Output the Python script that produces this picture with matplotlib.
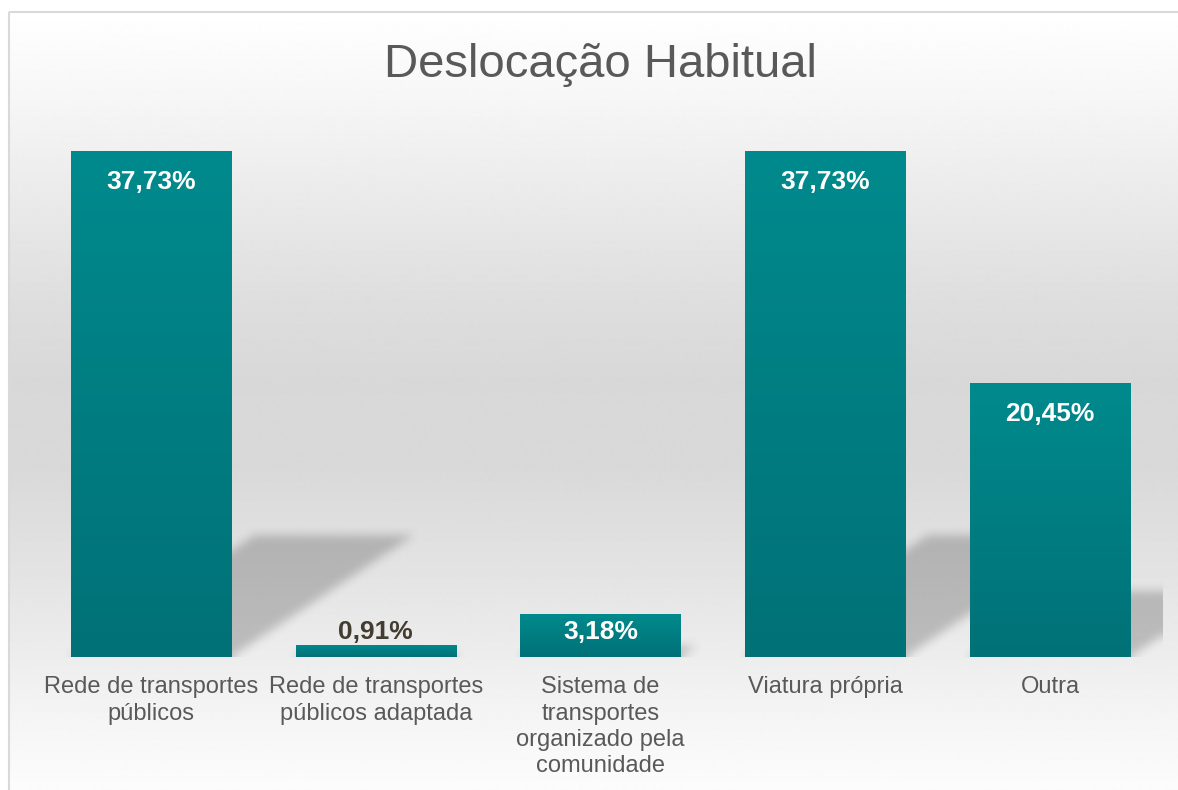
import numpy as np
import matplotlib
matplotlib.use('Agg')
import matplotlib.pyplot as plt
from matplotlib.patches import Rectangle

plt.rcParams['font.family'] = ['Liberation Sans', 'DejaVu Sans']

categories = ['Rede de transportes\npúblicos',
              'Rede de transportes\npúblicos adaptada',
              'Sistema de\ntransportes\norganizado pela\ncomunidade',
              'Viatura própria',
              'Outra']
values = [37.73, 0.91, 3.18, 37.73, 20.45]
value_labels = ['37,73%', '0,91%', '3,18%', '37,73%', '20,45%']
title = 'Deslocação Habitual'

W, H = 1178, 790
fig = plt.figure(figsize=(W / 100, H / 100), dpi=100)
fig.patch.set_facecolor('white')

# background gradient (light -> grey -> light), inside the chart border
bg = fig.add_axes([0, 0, 1, 1], zorder=-5)
bg.set_xlim(0, W)
bg.set_ylim(H, 0)
bg.axis('off')
stops_y = [12, 100, 200, 300, 380, 470, 560, 650, 720, 790]
stops_v = [255, 246, 234, 222, 216, 217, 226, 236, 245, 252]
yy = np.arange(12, H + 1)
g = np.interp(yy, stops_y, stops_v) / 255.0
bg.imshow(np.repeat(g[:, None], 2, axis=1), cmap='gray', vmin=0, vmax=1,
          extent=(9, W + 5, H, 12), aspect='auto', interpolation='bilinear')
bg.add_patch(Rectangle((9, 12), W, H, fill=False, edgecolor='#d9d9d9', lw=1.5))

# plot area
left, right = 38.6 / W, 1162.4 / W
bottom, top = 1 - 657 / H, 1 - 120.6 / H
ax = fig.add_axes([left, bottom, right - left, top - bottom])
ax.patch.set_alpha(0)
x = np.arange(len(values))
for s in ax.spines.values():
    s.set_visible(False)
ax.set_yticks([])
ax.set_xticks(x)
ax.set_xticklabels(categories, fontsize=17, color='#595959', linespacing=1.25)
ax.tick_params(axis='x', length=0, pad=14)

width = 0.712
bars = ax.bar(x, values, width=width, color='none', zorder=3)

# bar gradient
grad = np.linspace(0, 1, 256)[:, None]
top_c = np.array([0x01, 0x8a, 0x8d]) / 255
bot_c = np.array([0x00, 0x71, 0x77]) / 255
img = top_c * (1 - grad[..., None]) + bot_c * grad[..., None]
for b in bars:
    x0, y0 = b.get_x(), b.get_y()
    im = ax.imshow(img, extent=(x0, x0 + b.get_width(), y0, y0 + b.get_height()),
                   aspect='auto', zorder=3, interpolation='bilinear')
    im.set_clip_path(b)

# blurred perspective shadows behind the bars
nx, ny = 1124, 537
xs = np.linspace(-0.5, len(values) - 0.5, nx)
ys = np.linspace(0, 40, ny)
X, Y = np.meshgrid(xs, ys)
mask = np.zeros_like(X)
for xi, v in zip(x, values):
    sh = 0.24 * v
    shift = 0.0215 * v
    t = np.clip(Y / sh, 0, 1)
    inside = (Y <= sh) & (X >= xi - width / 2 + t * shift) & (X <= xi + width / 2 + t * shift)
    mask[inside] = 1


def box_blur(a, r, axis):
    c = np.cumsum(np.pad(a, [(r + 1, r) if i == axis else (0, 0) for i in range(2)],
                         mode='edge'), axis=axis)
    if axis == 0:
        return (c[2 * r + 1:] - c[:-2 * r - 1]) / (2 * r + 1)
    return (c[:, 2 * r + 1:] - c[:, :-2 * r - 1]) / (2 * r + 1)


for _ in range(2):
    mask = box_blur(mask, 5, 0)
    mask = box_blur(mask, 5, 1)
shadow = np.zeros((ny, nx, 4))
shadow[..., :3] = 0.25
shadow[..., 3] = mask * 0.28
ax.imshow(shadow, extent=(-0.5, len(values) - 0.5, 0, 40), origin='lower',
          aspect='auto', zorder=1, interpolation='bilinear')
ax.set_xlim(-0.5, len(values) - 0.5)
ax.set_ylim(0, 40)

# value labels
for xi, v, lab in zip(x, values, value_labels):
    hpx = v * 13.41
    if hpx > 80:
        off, col = -22.5, 'white'
    elif hpx > 25:
        off, col = -12.5, 'white'
    else:
        off, col = 9.5, '#433c30'
    ax.annotate(lab, (xi, v), xytext=(0, off), textcoords='offset points',
                ha='center', va='center', fontsize=19, fontweight='bold',
                color=col, zorder=5)

fig.text(600 / W, 1 - 65 / H, title, ha='center', va='center',
         fontsize=34, color='#595959')

fig.savefig('out.png', dpi=100)
